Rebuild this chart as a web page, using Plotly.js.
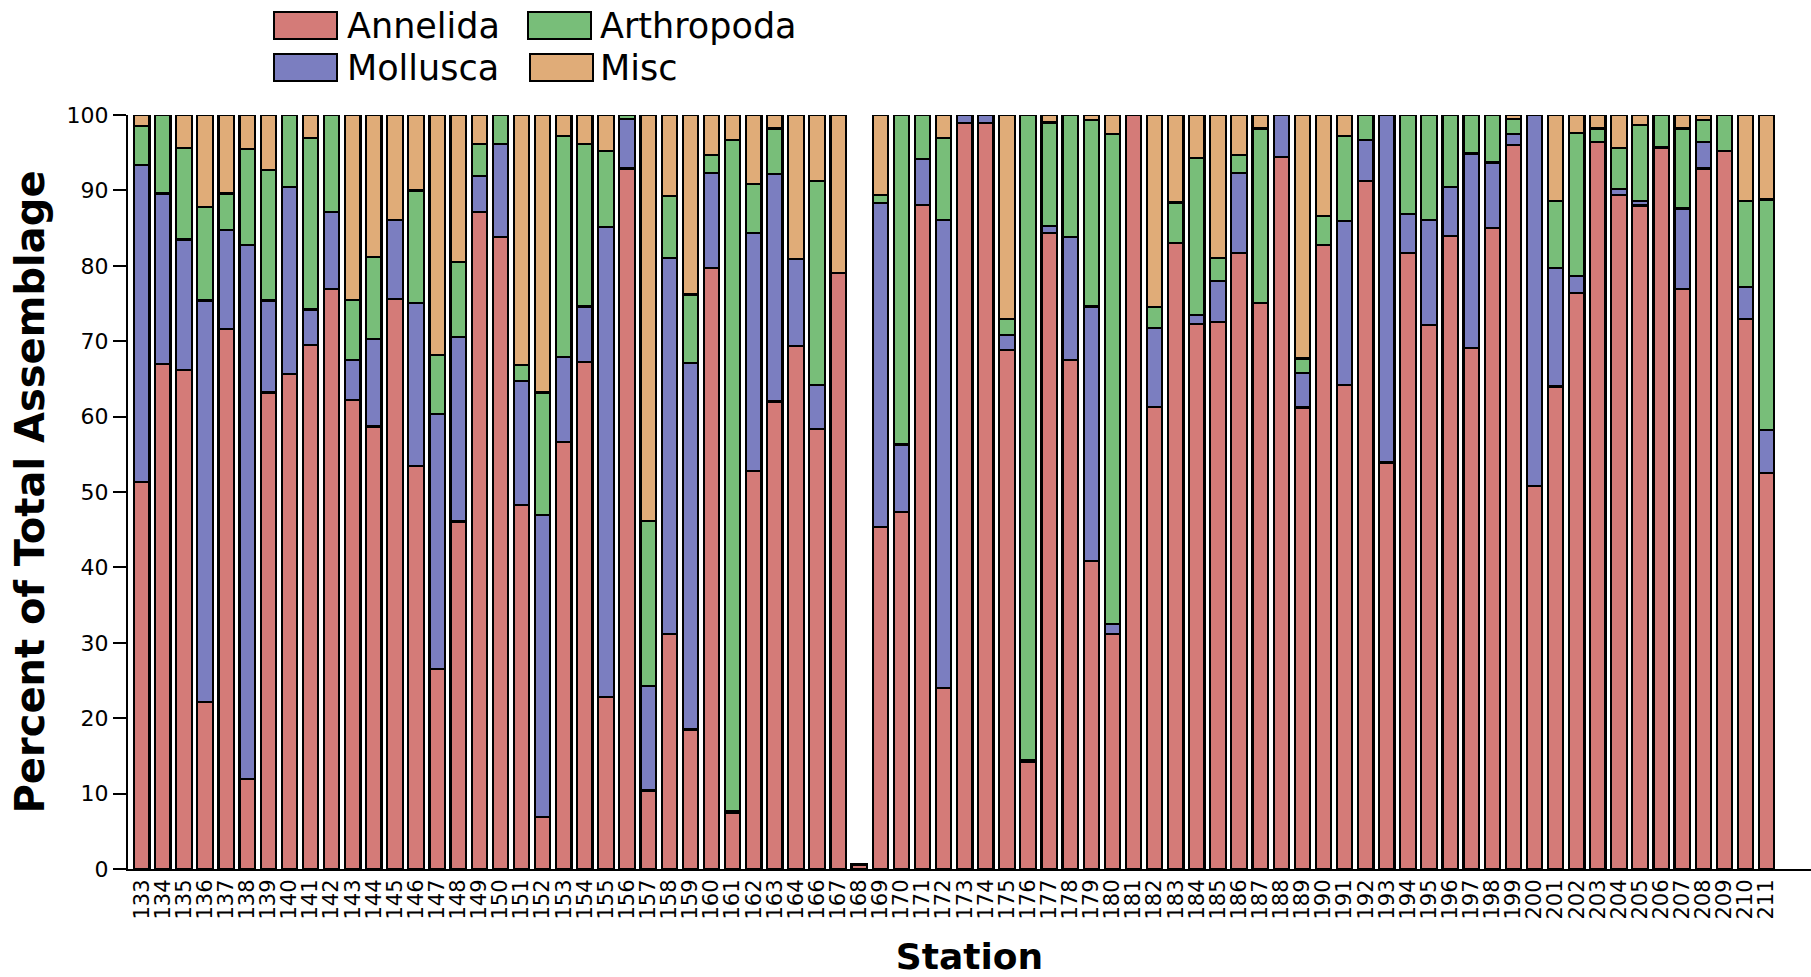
<!DOCTYPE html>
<html>
<head>
<meta charset="utf-8">
<script src="https://cdn.plot.ly/plotly-3.0.1.min.js"></script>
<style>html,body{margin:0;padding:0;background:#fff;}#chart{width:1811px;height:977px;}</style>
</head>
<body>
<div id="chart"></div>
<script>
const stations = ["133","134","135","136","137","138","139","140","141","142","143","144","145","146","147","148","149","150","151","152","153","154","155","156","157","158","159","160","161","162","163","164","166","167","168","169","170","171","172","173","174","175","176","177","178","179","180","181","182","183","184","185","186","187","188","189","190","191","192","193","194","195","196","197","198","199","200","201","202","203","204","205","206","207","208","209","210","211"];

const annelida = [51.3,67.0,66.2,22.1,71.6,11.9,63.2,65.7,69.5,76.9,62.2,58.7,75.6,53.5,26.5,46.1,87.1,83.8,48.3,6.9,56.6,67.2,22.8,92.9,10.4,31.2,18.5,79.7,7.4,52.8,62.0,69.4,58.4,79.0,0.6,45.4,47.3,88.1,24.0,98.9,98.9,68.8,14.2,84.3,67.5,40.8,31.2,100,61.3,83.0,72.3,72.5,81.7,75.1,94.4,61.2,82.8,64.2,91.3,53.9,81.7,72.1,84.0,69.1,85.0,96.0,50.8,64.0,76.4,96.4,89.4,88.0,95.7,76.9,92.9,95.2,72.9,52.5];

const mollusca = [42.1,22.6,17.3,53.3,13.2,70.9,12.2,24.7,4.7,10.2,5.3,11.6,10.5,21.6,33.8,24.5,4.8,12.4,16.4,40.0,11.3,7.4,62.3,6.6,13.9,49.8,48.6,12.6,0.3,31.5,30.2,11.5,5.8,0,0,42.9,9.0,6.1,62.1,1.1,1.1,2.0,0.3,1.0,16.3,33.8,1.3,0,10.4,0,1.2,5.5,10.6,0,5.6,4.6,0,21.7,5.4,46.1,5.2,14.0,6.4,25.8,8.7,1.5,49.2,15.7,2.3,0,0.8,0.6,0,10.7,3.5,0,4.3,5.7];

const arthropoda = [5.1,10.4,12.1,12.4,4.8,12.7,17.3,9.6,22.8,12.9,8.0,10.9,0,14.9,7.9,9.9,4.3,3.8,2.1,16.3,29.3,21.6,10.1,0.5,21.9,8.3,9.1,2.4,89.0,6.6,6.0,0,27.0,0,0,1.1,43.7,5.8,10.9,0,0,2.1,85.5,13.7,16.2,24.7,65.0,0,2.8,5.4,20.8,3.0,2.4,23.1,0,1.9,3.8,11.3,3.3,0,13.1,13.9,9.6,5.1,6.3,2.0,0,8.9,18.9,1.8,5.4,10.1,4.3,10.6,2.9,4.8,11.4,30.6];

const misc = [1.5,0,4.4,12.2,10.4,4.5,7.3,0,3.0,0,24.5,18.8,13.9,10.0,31.8,19.5,3.8,0,33.2,36.8,2.8,3.8,4.8,0,53.8,10.7,23.8,5.3,3.3,9.1,1.8,19.1,8.8,21.0,0,10.6,0,0,3.0,0,0,27.1,0,1.0,0,0.7,2.5,0,25.5,11.6,5.7,19.0,5.3,1.8,0,32.3,13.4,2.8,0,0,0,0,0,0,0,0.5,0,11.4,2.4,1.8,4.4,1.3,0,1.8,0.7,0,11.4,11.2];

const seriesNames = ["Annelida","Mollusca","Arthropoda","Misc"];
const seriesColors = ["#D47B78","#7B7EC0","#78BE79","#E0AC78"];
const seriesValues = [annelida, mollusca, arthropoda, misc];
const yTicks = [0,10,20,30,40,50,60,70,80,90,100];

const W = 1811, H = 977;
const M = {l:128, r:0, t:115, b:108};
const pw = W - M.l - M.r, ph = H - M.t - M.b;
const px2x = p => (p - M.l) / pw;
const px2y = p => (H - M.b - p) / ph;

const traces = seriesNames.map((name, i) => ({
  type: 'bar',
  name: name,
  x: stations,
  y: seriesValues[i],
  marker: {color: seriesColors[i], line: {color: '#000', width: 2.2}},
  showlegend: false,
  hoverinfo: 'x+y+name'
}));

// custom legend (large swatches as in the reference)
const legendItems = [
  {i:0, sx:274, sy:12, tx:345},
  {i:2, sx:528, sy:12, tx:598},
  {i:1, sx:274, sy:54, tx:345},
  {i:3, sx:530, sy:54, tx:598}
];
const shapes = legendItems.map(it => ({
  type:'rect', xref:'paper', yref:'paper',
  x0: px2x(it.sx), x1: px2x(it.sx + 63),
  y0: px2y(it.sy), y1: px2y(it.sy + 27),
  fillcolor: seriesColors[it.i], line:{color:'#000', width:2}
}));
const annotations = legendItems.map(it => ({
  xref:'paper', yref:'paper', x: px2x(it.tx), y: px2y(it.sy + 14),
  xanchor:'left', yanchor:'middle', showarrow:false,
  text: seriesNames[it.i], font:{family:'DejaVu Sans', size:35, color:'#000'}
}));

const layout = {
  width: W, height: H,
  margin: M,
  paper_bgcolor:'#fff', plot_bgcolor:'#fff',
  barmode:'stack', bargap:0.27,
  font:{family:'DejaVu Sans', color:'#000'},
  showlegend:false,
  xaxis:{
    type:'category',
    range:[-0.65, 79.1],
    tickmode:'array', tickvals: stations, ticktext: stations,
    tickangle:-90,
    tickfont:{family:'DejaVu Sans', size:21, color:'#000'},
    showline:true, linecolor:'#000', linewidth:2,
    showgrid:false, zeroline:false, ticks:'',
    title:{text:'Station', font:{family:'DejaVu Sans', size:36, color:'#000', weight:'bold'}, standoff:27}
  },
  yaxis:{
    range:[0,100],
    tickmode:'array', tickvals:yTicks, ticktext:yTicks.map(String),
    tickfont:{family:'DejaVu Sans', size:22, color:'#000'},
    ticks:'outside', ticklen:13, tickwidth:2, tickcolor:'#000',
    showline:true, linecolor:'#000', linewidth:2,
    showgrid:false, zeroline:false,
    title:{text:'Percent of Total Assemblage', font:{family:'DejaVu Sans', size:40, color:'#000', weight:'bold'}, standoff:10}
  },
  shapes: shapes,
  annotations: annotations
};

Plotly.newPlot('chart', traces, layout, {displayModeBar:false, staticPlot:true});
</script>
</body>
</html>
